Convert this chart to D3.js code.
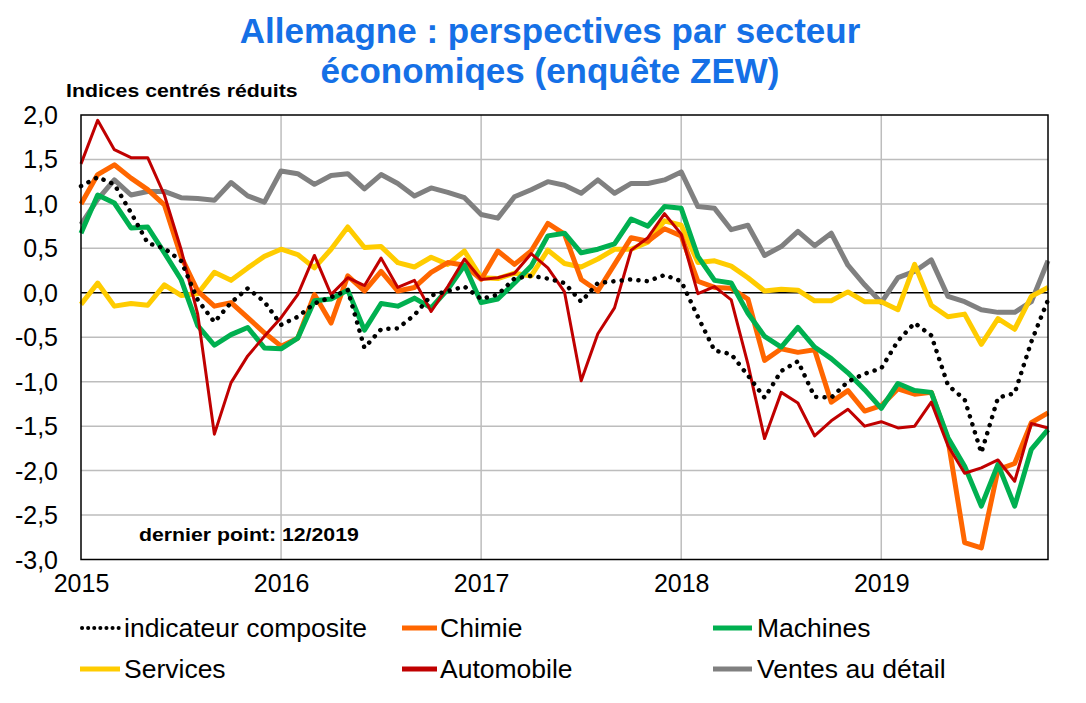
<!DOCTYPE html>
<html><head><meta charset="utf-8">
<script src="https://cdn.jsdelivr.net/npm/d3@7"></script>
<style>body{margin:0;background:#fff}svg{display:block;font-family:"Liberation Sans",Arial,sans-serif}</style>
</head><body><svg id="c" width="1086" height="703"></svg>
<script>
const years = ["2015","2016","2017","2018","2019"];
const yTicks = [2,1.5,1,0.5,0,-0.5,-1,-1.5,-2,-2.5,-3];

const composite = [1.2,1.3,1.22,0.9,0.56,0.5,0.36,-0.08,-0.33,-0.11,0.05,-0.10,-0.36,
 -0.27,-0.12,-0.05,0.03,-0.62,-0.41,-0.40,-0.25,-0.03,0.02,0.07,-0.07,
 -0.02,0.16,0.19,0.16,0.11,-0.10,0.11,0.13,0.15,0.13,0.2,0.13,
 -0.27,-0.65,-0.69,-0.93,-1.18,-0.88,-0.77,-1.17,-1.18,-1.0,-0.91,-0.85,
 -0.54,-0.34,-0.48,-1.04,-1.2,-1.8,-1.18,-1.13,-0.55,-0.08];
const chimie = [1.0,1.33,1.44,1.29,1.16,0.99,0.41,0.02,-0.15,-0.11,-0.28,-0.45,-0.60,
 -0.51,-0.02,-0.34,0.19,0.02,0.24,0.02,0.06,0.23,0.34,0.31,0.15,
 0.47,0.32,0.47,0.78,0.66,0.15,0.02,0.32,0.62,0.58,0.72,0.64,
 0.13,0.06,0.05,-0.07,-0.76,-0.63,-0.67,-0.64,-1.23,-1.10,-1.33,-1.27,
 -1.08,-1.14,-1.12,-1.65,-2.81,-2.87,-1.99,-1.92,-1.46,-1.35];
const machines = [0.67,1.10,1.01,0.73,0.74,0.45,0.15,-0.37,-0.59,-0.47,-0.39,-0.62,-0.63,
 -0.51,-0.09,-0.07,0.03,-0.42,-0.12,-0.15,-0.06,-0.17,0.04,0.31,-0.11,
 -0.07,0.11,0.30,0.64,0.67,0.45,0.49,0.55,0.83,0.75,0.97,0.95,
 0.41,0.14,0.11,-0.23,-0.49,-0.61,-0.39,-0.61,-0.74,-0.90,-1.09,-1.30,
 -1.02,-1.10,-1.12,-1.63,-1.95,-2.40,-1.93,-2.40,-1.76,-1.54];
const services = [-0.13,0.11,-0.15,-0.12,-0.14,0.09,-0.03,-0.01,0.23,0.14,0.28,0.41,0.49,
 0.43,0.28,0.49,0.74,0.51,0.52,0.34,0.29,0.40,0.32,0.47,0.17,
 0.16,0.22,0.19,0.48,0.33,0.29,0.38,0.49,0.49,0.57,0.81,0.76,
 0.34,0.36,0.30,0.17,0.02,0.04,0.03,-0.09,-0.09,0.01,-0.10,-0.10,
 -0.19,0.32,-0.14,-0.27,-0.24,-0.58,-0.29,-0.41,-0.04,0.06];
const automobile = [1.45,1.94,1.61,1.52,1.52,1.10,0.49,-0.24,-1.59,-1.01,-0.71,-0.49,-0.28,
 -0.02,0.42,-0.02,0.17,0.08,0.39,0.06,0.14,-0.21,0.07,0.38,0.15,
 0.17,0.22,0.44,0.28,0.01,-0.99,-0.46,-0.17,0.48,0.62,0.89,0.66,
 -0.01,0.07,-0.08,-0.8,-1.64,-1.12,-1.24,-1.61,-1.44,-1.31,-1.50,-1.45,
 -1.52,-1.50,-1.23,-1.72,-2.03,-1.97,-1.88,-2.12,-1.47,-1.52];
const ventes = [0.77,1.05,1.27,1.10,1.14,1.14,1.07,1.06,1.04,1.24,1.09,1.02,1.37,
 1.34,1.22,1.32,1.34,1.17,1.33,1.23,1.09,1.18,1.13,1.07,0.88,
 0.84,1.08,1.16,1.25,1.21,1.12,1.27,1.12,1.23,1.23,1.27,1.36,
 0.97,0.95,0.71,0.76,0.42,0.52,0.69,0.53,0.67,0.31,0.09,-0.11,
 0.17,0.24,0.37,-0.04,-0.10,-0.19,-0.22,-0.22,-0.10,0.36];

const svg = d3.select("#c");
const L = 81, R = 1048, T = 115, B = 559.5;
const x = d3.scaleLinear().domain([0, composite.length - 1]).range([L, R]);
const y = d3.scaleLinear().domain([-3, 2]).range([B, T]);

// titles
const blue = "#1570E6";
svg.append("text").attr("x", 550).attr("y", 43).attr("text-anchor","middle")
  .attr("font-size", 35).attr("font-weight","bold").attr("fill", blue)
  .text("Allemagne : perspectives par secteur");
svg.append("text").attr("x", 550).attr("y", 83).attr("text-anchor","middle")
  .attr("font-size", 35).attr("font-weight","bold").attr("fill", blue)
  .text("économiqes (enquête ZEW)");
svg.append("text").attr("transform","translate(66,97) scale(1.12,1)")
  .attr("font-size", 19).attr("font-weight","bold").attr("fill","#000")
  .text("Indices centrés réduits");

// grid
const grid = svg.append("g");
grid.selectAll("line.h").data(yTicks.filter(v => v !== 2 && v !== -3 && v !== 0)).join("line")
  .attr("x1", L).attr("x2", R).attr("y1", d => y(d)).attr("y2", d => y(d))
  .attr("stroke", "#BDBDBD").attr("stroke-width", 1.5);
grid.selectAll("line.v").data(years.slice(1).map((d,i) => (i+1)*12)).join("line")
  .attr("x1", d => x(d)).attr("x2", d => x(d)).attr("y1", T).attr("y2", B)
  .attr("stroke", "#BDBDBD").attr("stroke-width", 1.5);
svg.append("line").attr("x1", L).attr("x2", R).attr("y1", y(0)).attr("y2", y(0))
  .attr("stroke", "#000").attr("stroke-width", 1.5);

// axes labels
const yAxis = d3.axisLeft(y).tickValues(yTicks).tickSize(0)
  .tickFormat(d => d3.format(".1f")(d).replace("\u2212", "-").replace(".", ","));
const gy = svg.append("g").attr("transform", `translate(${L},0)`).call(yAxis);
gy.select(".domain").remove();
gy.selectAll("text").attr("font-size", 25).attr("fill","#000").attr("x", -23).attr("dy","0.34em")
  .attr("font-family", '"Liberation Sans",Arial,sans-serif');
const xAxis = d3.axisBottom(x).tickValues(years.map((d,i) => i*12)).tickSize(0).tickFormat((d,i) => years[i]);
const gx = svg.append("g").attr("transform", `translate(0,${B})`).call(xAxis);
gx.select(".domain").remove();
gx.selectAll("text").attr("font-size", 25).attr("fill","#000").attr("y", 32).attr("dy", 0)
  .attr("font-family", '"Liberation Sans",Arial,sans-serif');

// series
const series = [
  {name:"Ventes au détail", data: ventes, color:"#808080", w:5, dash:null},
  {name:"Services", data: services, color:"#FFCC00", w:5, dash:null},
  {name:"Chimie", data: chimie, color:"#FF6600", w:5, dash:null},
  {name:"Machines", data: machines, color:"#00B050", w:5, dash:null},
  {name:"Automobile", data: automobile, color:"#C00000", w:3, dash:null},
  {name:"indicateur composite", data: composite, color:"#000", w:4.5, dash:"0.1 8.3"}
];
const line = d3.line().x((d,i) => x(i)).y(d => y(d));
const gs = svg.append("g");
series.forEach(s => {
  gs.append("path").datum(s.data).attr("d", line).attr("fill","none")
    .attr("stroke", s.color).attr("stroke-width", s.w)
    .attr("stroke-linejoin","round").attr("stroke-linecap", s.dash ? "round" : "butt")
    .attr("stroke-dasharray", s.dash);
});

// border
svg.append("rect").attr("x", L).attr("y", T).attr("width", R-L).attr("height", B-T)
  .attr("fill","none").attr("stroke","#000").attr("stroke-width",1.5);

svg.append("text").attr("transform","translate(139,541) scale(1.12,1)")
  .attr("font-size", 19).attr("font-weight","bold").attr("fill","#000")
  .text("dernier point: 12/2019");

// legend
const legend = [
  {s: series[5], x1:82, x2:121, tx:124, row:0},
  {s: series[2], x1:402, x2:437, tx:440, row:0},
  {s: series[3], x1:713, x2:752, tx:757, row:0},
  {s: series[1], x1:80, x2:120, tx:124, row:1},
  {s: series[4], x1:402, x2:437, tx:440, row:1},
  {s: series[0], x1:713, x2:752, tx:757, row:1}
];
const gl = svg.append("g");
legend.forEach(l => {
  const cy = 628 + l.row * 41;
  gl.append("line").attr("x1", l.x1).attr("x2", l.x2).attr("y1", cy).attr("y2", cy)
    .attr("stroke", l.s.color).attr("stroke-width", l.s.dash ? 4 : 5)
    .attr("stroke-dasharray", l.s.dash ? "0.1 6" : null)
    .attr("stroke-linecap", l.s.dash ? "round" : "butt");
  gl.append("text").attr("x", l.tx).attr("y", cy + 9).attr("font-size", 26.5).attr("fill","#000")
    .text(l.s.name);
});
</script></body></html>
